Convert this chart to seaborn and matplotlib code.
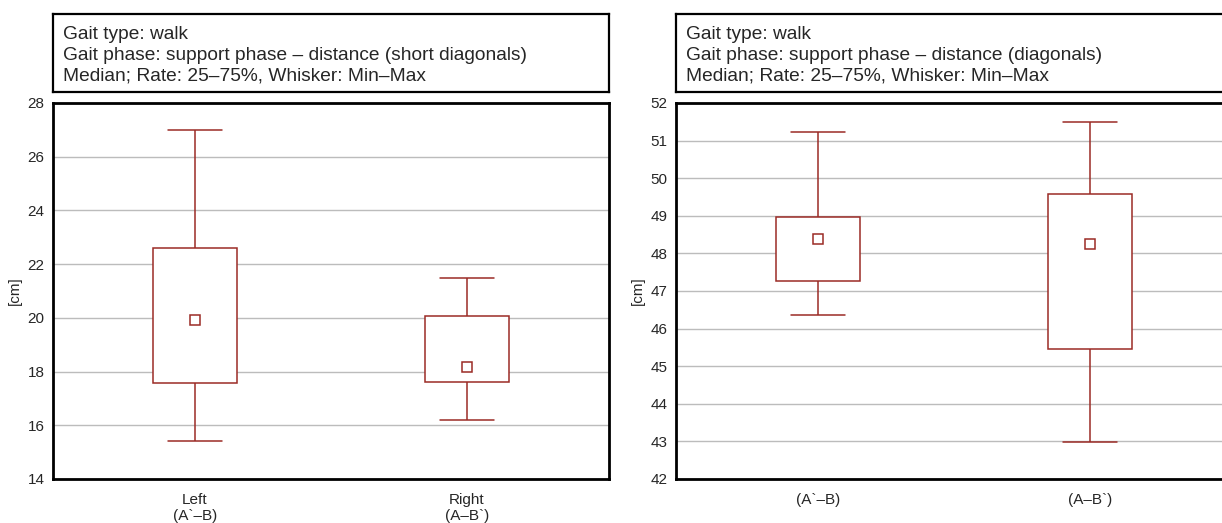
import numpy as np
import pandas as pd
import matplotlib
matplotlib.use("Agg")
import matplotlib.pyplot as plt
import seaborn as sns

# five-number summaries: min, q1, median, q3, max
left_labels = ["Left\n(A`–B)", "Right\n(A–B`)"]
left_a = [15.42, 17.58, 19.92, 22.6, 26.98]
left_b = [16.2, 17.61, 18.17, 20.07, 21.48]

right_labels = ["(A`–B)", "(A–B`)"]
right_a = [46.36, 47.27, 48.38, 48.97, 51.23]
right_b = [42.98, 45.46, 48.25, 49.58, 51.5]

left_title = ("Gait type: walk\n"
              "Gait phase: support phase – distance (short diagonals)\n"
              "Median; Rate: 25–75%, Whisker: Min–Max")
right_title = ("Gait type: walk\n"
               "Gait phase: support phase – distance (diagonals)\n"
               "Median; Rate: 25–75%, Whisker: Min–Max")

BOX_COLOR = "#9b2b26"
GRID_COLOR = "#bcbcbc"

W, H = 1222, 523


def px_axes(fig, x0, y0, x1, y1):
    return fig.add_axes([x0 / W, 1 - y1 / H, (x1 - x0) / W, (y1 - y0) / H])


def make_df(labels, a, b):
    return pd.DataFrame({
        "group": [labels[0]] * len(a) + [labels[1]] * len(b),
        "value": a + b,
    })


def draw_panel(fig, x0, labels, a, b, title, ylim, ystep):
    # title box
    tax = px_axes(fig, x0, 14, x0 + 556, 92)
    tax.set_xticks([])
    tax.set_yticks([])
    for s in tax.spines.values():
        s.set_linewidth(1.6)
        s.set_color("black")
    tax.text(10 / 556, 0.47, title, transform=tax.transAxes, ha="left", va="center",
             fontsize=13.8, linespacing=1.3)

    ax = px_axes(fig, x0, 103, x0 + 556, 479)
    df = make_df(labels, a, b)
    sns.boxplot(data=df, x="group", y="value", order=labels, whis=(0, 100), width=0.31,
                color="white", linecolor=BOX_COLOR, linewidth=1.1, capwidths=0.2,
                medianprops={"linewidth": 0}, showfliers=False, ax=ax, zorder=3)
    med = df.groupby("group", sort=False)["value"].median().reindex(labels).reset_index()
    sns.pointplot(data=med, x="group", y="value", order=labels, linestyle="none",
                  marker="s", markersize=6.5, markerfacecolor="white",
                  markeredgecolor=BOX_COLOR, markeredgewidth=1.1, color=BOX_COLOR,
                  errorbar=None, ax=ax, zorder=5)

    ax.set_xlim(-0.522, 1.522)
    ax.set_ylim(*ylim)
    ax.set_yticks(np.arange(ylim[0], ylim[1] + 0.01, ystep))
    ax.yaxis.grid(True, color=GRID_COLOR, linewidth=1)
    ax.set_axisbelow(True)
    ax.set_xticks([-0.522, 0.5, 1.522])
    ax.set_xticklabels([])
    ax.set_xticks([0, 1], minor=True)
    ax.set_xticklabels(labels, minor=True, fontsize=11, linespacing=1.15)
    ax.tick_params(axis="x", which="major", length=4, color="#aaaaaa", width=1)
    ax.tick_params(axis="x", which="minor", length=0, pad=10)
    ax.tick_params(axis="y", length=3, color="#aaaaaa", labelsize=11, pad=3)
    ax.set_xlabel("")
    ax.set_ylabel("[cm]", fontsize=11, labelpad=4)
    for s in ax.spines.values():
        s.set_linewidth(2)
        s.set_color("black")
    return ax


def main():
    sns.set_style("white")
    plt.rcParams["font.family"] = ["Liberation Sans", "DejaVu Sans"]

    fig = plt.figure(figsize=(W / 100, H / 100), dpi=100)
    draw_panel(fig, 53, left_labels, left_a, left_b, left_title, (14, 28), 2)
    draw_panel(fig, 676, right_labels, right_a, right_b, right_title, (42, 52), 1)
    fig.savefig("out.png", dpi=100)


if __name__ == '__main__':
    main()
